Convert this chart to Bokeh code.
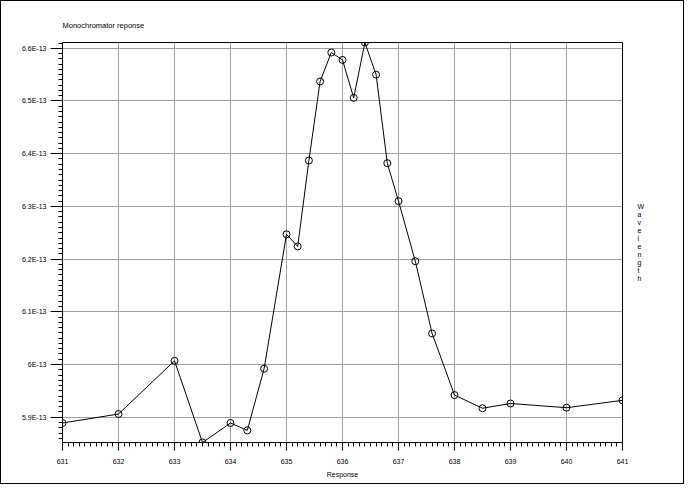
from bokeh.plotting import figure
from bokeh.models import Range1d, FixedTicker, CustomJSTickFormatter, LinearAxis
from bokeh.embed import file_html
from bokeh.resources import INLINE

# ---- data ----
wavelength = [631, 632, 633, 633.5, 634, 634.3, 634.6, 635, 635.2, 635.4, 635.6,
              635.8, 636, 636.2, 636.4, 636.6, 636.8, 637, 637.3, 637.6, 638,
              638.5, 639, 640, 641]
response = [5.889e-13, 5.906e-13, 6.007e-13, 5.852e-13, 5.889e-13, 5.875e-13,
            5.992e-13, 6.247e-13, 6.224e-13, 6.387e-13, 6.537e-13, 6.592e-13,
            6.578e-13, 6.506e-13, 6.611e-13, 6.550e-13, 6.382e-13, 6.310e-13,
            6.196e-13, 6.059e-13, 5.942e-13, 5.917e-13, 5.926e-13, 5.918e-13,
            5.932e-13]
x_ticks = [631, 632, 633, 634, 635, 636, 637, 638, 639, 640, 641]
y_ticks = [5.9e-13, 6.0e-13, 6.1e-13, 6.2e-13, 6.3e-13, 6.4e-13, 6.5e-13, 6.6e-13]
title_text = "Monochromator reponse"
x_label = "Response"
y_label = "Wavelength"

FONT = "Liberation Sans"

p = figure(frame_width=560, frame_height=400,
           min_border_left=61, min_border_right=61,
           min_border_top=41, min_border_bottom=41,
           output_backend="svg", toolbar_location=None,
           x_range=Range1d(min(x_ticks), max(x_ticks)),
           y_range=Range1d(min(response), max(response)))
p.styles = {"border": "1px solid black"}
p.background_fill_color = "white"
p.border_fill_color = "white"
p.outline_line_color = "black"
p.outline_line_alpha = 1.0
p.outline_line_width = 1

# title
p.title.text = title_text
p.title.align = "left"
p.title.text_font = FONT
p.title.text_font_size = "7.5px"
p.title.text_font_style = "normal"
p.title.text_color = "black"
p.title.standoff = 25

x_minor = [631 + k / 10 for k in range(0, 101)]
y_minor = [k * 1e-15 for k in range(585, 662)]

xa = p.xaxis[0]
xa.ticker = FixedTicker(ticks=x_ticks, minor_ticks=x_minor)
ya = p.yaxis[0]
ya.ticker = FixedTicker(ticks=y_ticks, minor_ticks=y_minor)
ya.formatter = CustomJSTickFormatter(code="""
    const v = Math.round(tick * 1e14) / 10;
    return v + "E-13";
""")

for ax in (xa, ya):
    ax.axis_line_color = "black"
    ax.major_tick_line_color = "black"
    ax.minor_tick_line_color = "black"
    ax.major_tick_in = 0
    ax.minor_tick_in = 0
    ax.minor_tick_out = 4
    ax.major_label_text_font = FONT
    ax.major_label_text_font_size = "7px"
    ax.major_label_text_color = "black"

xa.major_tick_out = 8
xa.major_label_standoff = 8
xa.axis_label = x_label
xa.axis_label_text_font = FONT
xa.axis_label_text_font_size = "7px"
xa.axis_label_text_font_style = "normal"
xa.axis_label_text_color = "black"
xa.axis_label_standoff = 4

ya.major_tick_out = 12
ya.major_label_standoff = 4

# right-side stacked axis label
ra = LinearAxis(ticker=FixedTicker(ticks=[]), axis_line_color=None,
                major_tick_line_color=None, minor_tick_line_color=None,
                major_label_text_font_size="0px",
                axis_label="\n".join(list(y_label)),
                axis_label_orientation="horizontal",
                axis_label_text_font=FONT, axis_label_text_font_size="7px",
                axis_label_text_font_style="normal",
                axis_label_text_color="black",
                axis_label_text_line_height=1.15,
                axis_label_text_align="center",
                axis_label_standoff=15)
p.add_layout(ra, "right")

p.xgrid.grid_line_color = "#a0a0a0"
p.ygrid.grid_line_color = "#a0a0a0"
p.xgrid.grid_line_width = 1
p.ygrid.grid_line_width = 1

p.line(wavelength, response, line_color="black", line_width=1)
p.scatter(wavelength, response, marker="circle", size=7,
          fill_color=None, line_color="black", line_width=1)

open("out.html", "w").write(file_html(p, INLINE))
